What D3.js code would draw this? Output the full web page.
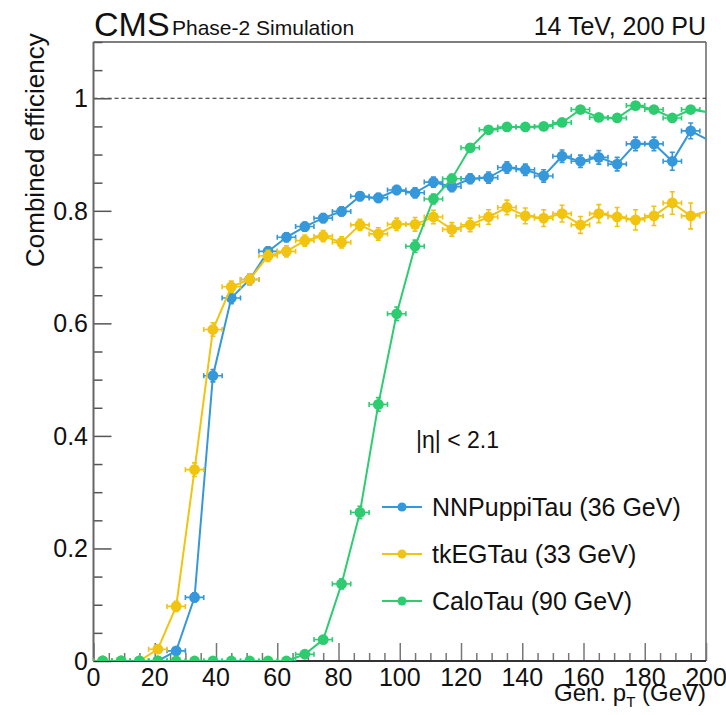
<!DOCTYPE html>
<html>
<head>
<meta charset="utf-8">
<script src="https://cdn.jsdelivr.net/npm/d3@7"></script>
<style>
body { margin: 0; background: #fff; }
svg { display: block; }
text { font-family: "Liberation Sans", Arial, Helvetica, sans-serif; fill: #111; }
</style>
</head>
<body>
<script>
// bin centres in GeV (6 GeV wide bins)
var ptBins = [3, 9, 15, 21, 27, 33, 39, 45, 51, 57, 63, 69, 75, 81, 87, 93, 99, 105, 111, 117,
              123, 129, 135, 141, 147, 153, 159, 165, 171, 177, 183, 189, 195, 201];

var nnPuppiTau = [0, 0, 0, 0, 0.018, 0.113, 0.507, 0.645, 0.678, 0.728, 0.753, 0.772, 0.787, 0.799, 0.826, 0.823, 0.837,
                  0.832, 0.851, 0.843, 0.857, 0.859, 0.877, 0.873, 0.862, 0.897, 0.888, 0.895, 0.883, 0.919, 0.919, 0.888, 0.942, 0.925];
var nnPuppiErr = [0, 0, 0, 0, 0.004, 0.008, 0.011, 0.01, 0.009, 0.008, 0.008, 0.008, 0.008, 0.008, 0.008, 0.008, 0.008,
                  0.009, 0.009, 0.009, 0.009, 0.01, 0.01, 0.01, 0.011, 0.011, 0.011, 0.012, 0.012, 0.012, 0.012, 0.016, 0.014, 0.014];

var tkEGTau = [0, 0, 0, 0.021, 0.097, 0.340, 0.589, 0.665, 0.678, 0.720, 0.728, 0.747, 0.755, 0.744, 0.775, 0.759, 0.776,
               0.776, 0.789, 0.767, 0.775, 0.789, 0.806, 0.791, 0.787, 0.795, 0.775, 0.795, 0.789, 0.784, 0.791, 0.814, 0.791, 0.80];
var tkEGErr = [0, 0, 0, 0.005, 0.009, 0.012, 0.012, 0.01, 0.01, 0.01, 0.01, 0.01, 0.01, 0.01, 0.01, 0.011, 0.011,
               0.012, 0.012, 0.012, 0.012, 0.013, 0.013, 0.014, 0.015, 0.015, 0.015, 0.016, 0.017, 0.018, 0.017, 0.02, 0.023, 0.022];

var caloTau = [0, 0, 0, 0, 0, 0, 0, 0, 0, 0, 0, 0.012, 0.038, 0.137, 0.264, 0.456, 0.617,
               0.737, 0.821, 0.857, 0.912, 0.944, 0.949, 0.949, 0.950, 0.957, 0.980, 0.966, 0.965, 0.987, 0.980, 0.965, 0.980, 0.975];
var caloErr = [0, 0, 0, 0, 0, 0, 0, 0, 0, 0, 0, 0.003, 0.005, 0.009, 0.011, 0.012, 0.012,
               0.011, 0.009, 0.008, 0.007, 0.006, 0.006, 0.006, 0.006, 0.006, 0.005, 0.006, 0.006, 0.005, 0.005, 0.006, 0.005, 0.005];

var xTicks = [0, 20, 40, 60, 80, 100, 120, 140, 160, 180, 200];
var yTicks = [0, 0.2, 0.4, 0.6, 0.8, 1];
var binHalfWidth = 3;

var series = [
  {name: "NNPuppiTau (36 GeV)", values: nnPuppiTau, errors: nnPuppiErr, color: "#3498db"},
  {name: "tkEGTau (33 GeV)", values: tkEGTau, errors: tkEGErr, color: "#f1c40f"},
  {name: "CaloTau (90 GeV)", values: caloTau, errors: caloErr, color: "#2ecc71"}
];

var width = 726, height = 715;
var padL = 93.5, padR = 706, padT = 42, padB = 661;

var x = d3.scaleLinear().domain([0, 200]).range([padL, padR]);
var y = d3.scaleLinear().domain([0, 1.1]).range([padB, padT]);

var svg = d3.select("body").append("svg")
  .attr("width", width)
  .attr("height", height);

svg.append("clipPath").attr("id", "frame")
  .append("rect").attr("x", padL).attr("y", padT).attr("width", padR - padL).attr("height", padB - padT);

// frame top / right
svg.append("line").attr("x1", padL).attr("x2", padR).attr("y1", padT).attr("y2", padT)
  .attr("stroke", "#000").attr("stroke-width", 1.2);
svg.append("line").attr("x1", padR).attr("x2", padR).attr("y1", padT).attr("y2", padB)
  .attr("stroke", "#666").attr("stroke-width", 1.5);

// dashed line at 1
svg.append("line").attr("x1", padL).attr("x2", padR).attr("y1", y(1)).attr("y2", y(1))
  .attr("stroke", "#222").attr("stroke-width", 1).attr("stroke-dasharray", "4,3");

// minor + major ticks
var xMinor = d3.range(0, 201, 5);
var yMinor = d3.range(0, 1.1001, 0.05);

var xAxis = d3.axisTop(x).tickValues(xMinor).tickSize(8).tickFormat("");
var gx = svg.append("g").attr("transform", "translate(0," + padB + ")").call(xAxis);
gx.selectAll(".tick line").attr("stroke", "#777").attr("stroke-width", 1.5)
  .filter(function(d) { return d % 20 === 0; }).attr("y2", -18);
gx.select(".domain").remove();

var yAxis = d3.axisRight(y).tickValues(yMinor).tickSize(9).tickFormat("");
var gy = svg.append("g").attr("transform", "translate(" + padL + ",0)").call(yAxis);
gy.selectAll(".tick line").attr("stroke", "#555").attr("stroke-width", 1.5)
  .filter(function(d) { return Math.abs(d * 5 - Math.round(d * 5)) < 1e-6; }).attr("x2", 18);
gy.select(".domain").remove();

// axis lines
svg.append("line").attr("x1", padL).attr("x2", padR).attr("y1", padB).attr("y2", padB)
  .attr("stroke", "#333").attr("stroke-width", 2);
svg.append("line").attr("x1", padL).attr("x2", padL).attr("y1", padT).attr("y2", padB)
  .attr("stroke", "#666").attr("stroke-width", 2);

// tick labels
svg.selectAll(".xlab").data(xTicks).enter().append("text")
  .attr("class", "xlab")
  .attr("x", function(d) { return x(d); })
  .attr("y", 686)
  .attr("text-anchor", "middle")
  .style("font-size", "25px")
  .text(function(d) { return d; });

svg.selectAll(".ylab").data(yTicks).enter().append("text")
  .attr("class", "ylab")
  .attr("x", 88)
  .attr("y", function(d) { return y(d) + 9; })
  .attr("text-anchor", "end")
  .style("font-size", "25px")
  .text(function(d) { return d; });

// axis titles
var xt = svg.append("text").attr("x", padR).attr("y", 701).attr("text-anchor", "end")
  .style("font-size", "24px");
xt.append("tspan").text("Gen. p");
xt.append("tspan").attr("dy", 6).style("font-size", "15px").text("T");
xt.append("tspan").attr("dy", -6).text(" (GeV)");

svg.append("text")
  .attr("transform", "translate(44,267) rotate(-90)")
  .attr("text-anchor", "start")
  .style("font-size", "26px")
  .text("Combined efficiency");

// header
svg.append("text").attr("x", 94).attr("y", 36).style("font-size", "34px").text("CMS");
svg.append("text").attr("x", 172).attr("y", 35).style("font-size", "21px").text("Phase-2 Simulation");
svg.append("text").attr("x", padR).attr("y", 35).attr("text-anchor", "end")
  .style("font-size", "25px").text("14 TeV, 200 PU");

// data
var plot = svg.append("g").attr("clip-path", "url(#frame)");

var line = d3.line()
  .x(function(d) { return x(d.pt); })
  .y(function(d) { return y(d.v); });

series.forEach(function(s) {
  var pts = ptBins.map(function(pt, i) { return {pt: pt, v: s.values[i], e: s.errors[i]}; });
  var g = plot.append("g");
  g.append("path").datum(pts)
    .attr("d", line)
    .attr("fill", "none")
    .attr("stroke", s.color)
    .attr("stroke-width", 2);

  var inside = pts.filter(function(d) { return d.pt < 200; });
  var eb = g.selectAll(".eb").data(inside).enter().append("g")
    .attr("stroke", s.color).attr("stroke-width", 1.6);
  // horizontal bars with caps
  eb.append("line")
    .attr("x1", function(d) { return x(d.pt - binHalfWidth); })
    .attr("x2", function(d) { return x(d.pt + binHalfWidth); })
    .attr("y1", function(d) { return y(d.v); })
    .attr("y2", function(d) { return y(d.v); });
  eb.append("line")
    .attr("x1", function(d) { return x(d.pt - binHalfWidth); })
    .attr("x2", function(d) { return x(d.pt - binHalfWidth); })
    .attr("y1", function(d) { return y(d.v) - 2.5; })
    .attr("y2", function(d) { return y(d.v) + 2.5; });
  eb.append("line")
    .attr("x1", function(d) { return x(d.pt + binHalfWidth); })
    .attr("x2", function(d) { return x(d.pt + binHalfWidth); })
    .attr("y1", function(d) { return y(d.v) - 2.5; })
    .attr("y2", function(d) { return y(d.v) + 2.5; });
  // vertical bars with caps
  var ve = eb.filter(function(d) { return d.e > 0; });
  ve.append("line")
    .attr("x1", function(d) { return x(d.pt); })
    .attr("x2", function(d) { return x(d.pt); })
    .attr("y1", function(d) { return y(d.v + d.e); })
    .attr("y2", function(d) { return y(d.v - d.e); });
  ve.append("line")
    .attr("x1", function(d) { return x(d.pt) - 2.5; })
    .attr("x2", function(d) { return x(d.pt) + 2.5; })
    .attr("y1", function(d) { return y(d.v + d.e); })
    .attr("y2", function(d) { return y(d.v + d.e); });
  ve.append("line")
    .attr("x1", function(d) { return x(d.pt) - 2.5; })
    .attr("x2", function(d) { return x(d.pt) + 2.5; })
    .attr("y1", function(d) { return y(d.v - d.e); })
    .attr("y2", function(d) { return y(d.v - d.e); });

  g.selectAll("circle").data(inside).enter().append("circle")
    .attr("cx", function(d) { return x(d.pt); })
    .attr("cy", function(d) { return y(d.v); })
    .attr("r", 5.4)
    .attr("fill", s.color);
});

// legend
svg.append("text").attr("x", 416).attr("y", 448).style("font-size", "23px").text("|η| < 2.1");

var legendY = [507, 554, 601];
var lg = svg.selectAll(".leg").data(series).enter().append("g")
  .attr("transform", function(d, i) { return "translate(0," + legendY[i] + ")"; });
lg.append("line").attr("x1", 382).attr("x2", 422).attr("y1", 0).attr("y2", 0)
  .attr("stroke", function(d) { return d.color; }).attr("stroke-width", 2);
lg.append("circle").attr("cx", 402).attr("cy", 0).attr("r", 4.5)
  .attr("fill", function(d) { return d.color; });
lg.append("text").attr("x", 432).attr("y", 8.5).style("font-size", "25px")
  .text(function(d) { return d.name; });
</script>
</body>
</html>
